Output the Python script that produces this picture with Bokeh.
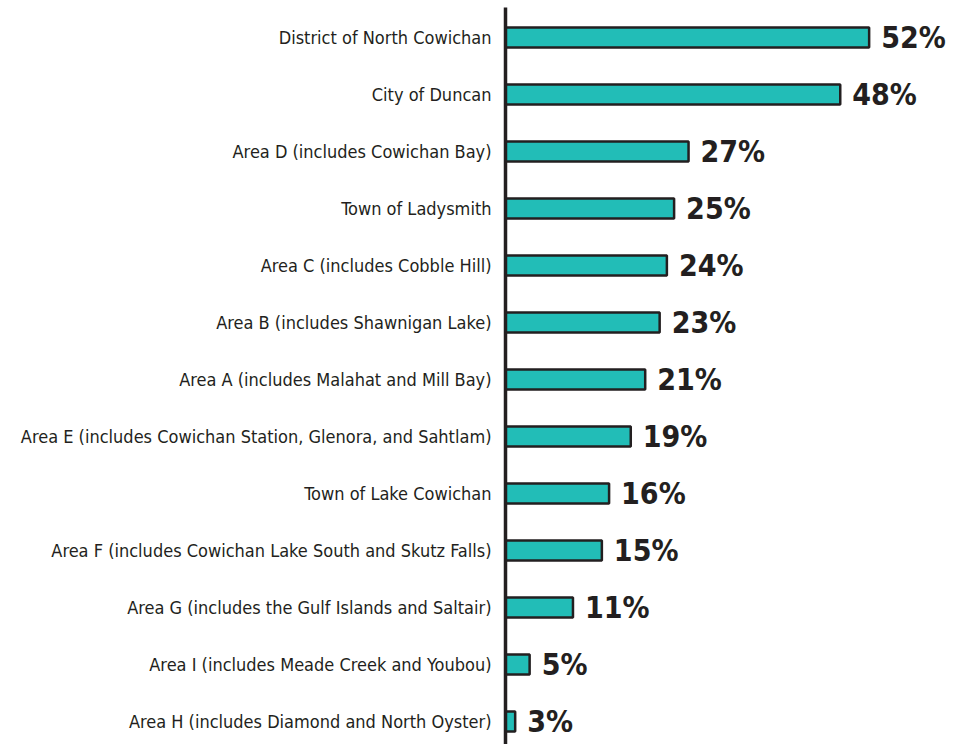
from bokeh.plotting import figure
from bokeh.models import Range1d, FixedTicker, ColumnDataSource, LinearAxis
from bokeh.core.properties import value
from bokeh.embed import file_html
from bokeh.resources import INLINE

categories = [
    "District of North Cowichan",
    "City of Duncan",
    "Area D (includes Cowichan Bay)",
    "Town of Ladysmith",
    "Area C (includes Cobble Hill)",
    "Area B (includes Shawnigan Lake)",
    "Area A (includes Malahat and Mill Bay)",
    "Area E (includes Cowichan Station, Glenora, and Sahtlam)",
    "Town of Lake Cowichan",
    "Area F (includes Cowichan Lake South and Skutz Falls)",
    "Area G (includes the Gulf Islands and Saltair)",
    "Area I (includes Meade Creek and Youbou)",
    "Area H (includes Diamond and North Oyster)",
]
values = [52, 48, 27, 25, 24, 23, 21, 19, 16, 15, 11, 5, 3]
value_labels = [f"{v}%" for v in values]

n = len(categories)
ypos = [n - 1 - i for i in range(n)]

src = ColumnDataSource(dict(cat=categories, val=values, y=ypos, lab=value_labels))

FONT = "DejaVu Sans Condensed"

p = figure(width=964, height=744, output_backend="svg", toolbar_location=None,
           x_range=Range1d(1.66, 65.2), y_range=Range1d(-0.404, 12.526),
           x_axis_location=None, y_axis_location=None,
           min_border_left=505, min_border_right=0, min_border_top=7, min_border_bottom=0)
p.outline_line_color = None
p.xgrid.visible = False
p.ygrid.visible = False
p.background_fill_color = "white"

p.hbar(y="y", left=0, right="val", height=0.35, source=src,
       fill_color="#22bdb7", line_color="#231f20", line_width=2.5)

p.text(x="val", y="y", text="lab", source=src, x_offset=12,
       text_baseline="middle", text_align="left",
       text_font=value(FONT), text_font_style="bold",
       text_font_size="30px", text_color="#231f20")

yaxis = LinearAxis(ticker=FixedTicker(ticks=ypos),
                   major_label_overrides={y: c for y, c in zip(ypos, categories)})
yaxis.axis_line_width = 3.5
yaxis.axis_line_color = "#231f20"
yaxis.major_tick_line_color = None
yaxis.minor_tick_line_color = None
yaxis.major_label_standoff = 8
yaxis.major_label_text_font = FONT
yaxis.major_label_text_font_size = "18px"
yaxis.major_label_text_color = "#231f20"
p.add_layout(yaxis, "left")

open("out.html", "w").write(file_html(p, INLINE))
